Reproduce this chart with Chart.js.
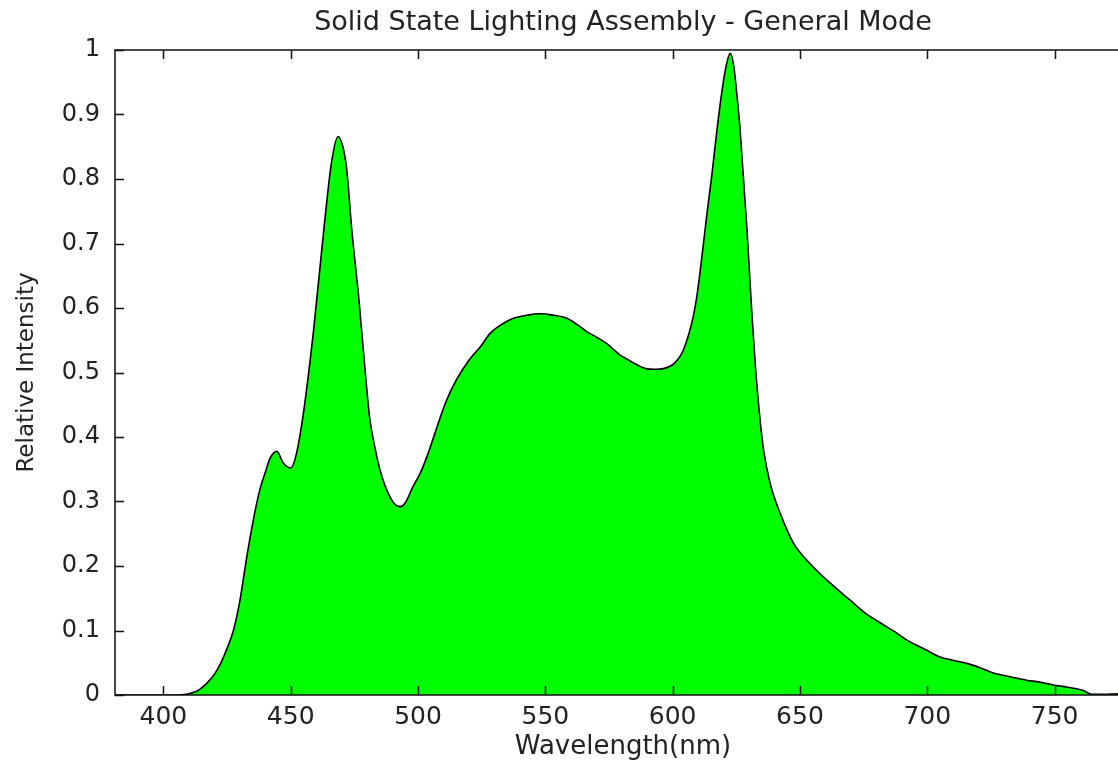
<!DOCTYPE html>
<html>
<head>
<meta charset="utf-8">
<title>Solid State Lighting Assembly - General Mode</title>
<script src="https://cdn.jsdelivr.net/npm/chart.js@4"></script>
<style>
  html, body { margin: 0; padding: 0; background: #fff; overflow: hidden; }
  #wrap { width: 1150px; height: 763px; }
</style>
</head>
<body>
<div id="wrap"><canvas id="spectrum-chart" width="1150" height="763"></canvas></div>
<script>
// Spectrum: wavelength (nm) and relative intensity
const wavelengths = [
  381, 400, 405, 409, 411, 414, 417, 420, 422.5, 425, 427.5, 430, 433, 436, 438, 440, 442, 444.6,
  447, 450, 452, 455, 459, 463, 466, 468.6, 470.5, 472, 474, 476.7, 479.3, 481, 483, 485, 487, 490.4,
  493, 495, 498, 501, 504, 507.5, 511, 515, 520, 524.5, 528.4, 533, 537.5, 543, 548, 553, 558.5,
  563, 566.4, 571, 574, 579.4, 582, 586, 589.5, 593, 596.4, 600, 602, 604, 606, 608, 609.5, 611.5, 613.5,
  615.5, 617.4, 619.5, 621, 622.6, 624, 625.5, 626.5, 629.2, 631.1, 632.5, 634, 635.7, 638.3, 642.2, 647.5, 652.7,
  660.6, 669.7, 675, 681.5, 688, 692, 699, 705, 710, 715.5, 721, 726, 733, 739, 744, 749.5,
  755, 761.3, 764.6, 770, 775, 780
];
const intensity = [
  0, 0, 0, 0.001, 0.003, 0.008, 0.018, 0.032, 0.049, 0.072, 0.10, 0.145, 0.22, 0.285, 0.32, 0.345, 0.368, 0.378,
  0.36, 0.352, 0.37, 0.437, 0.566, 0.721, 0.825, 0.866, 0.85, 0.815, 0.721, 0.617, 0.5, 0.43, 0.385, 0.35, 0.325, 0.298,
  0.292, 0.298, 0.323, 0.345, 0.375, 0.416, 0.455, 0.488, 0.519, 0.54, 0.561, 0.575, 0.584, 0.589, 0.591, 0.589, 0.584,
  0.573, 0.563, 0.553, 0.545, 0.527, 0.521, 0.512, 0.506, 0.505, 0.506, 0.512, 0.52, 0.533, 0.555, 0.585, 0.618, 0.68, 0.747,
  0.81, 0.876, 0.94, 0.975, 0.995, 0.975, 0.92, 0.876, 0.721, 0.592, 0.51, 0.44, 0.38, 0.328, 0.282, 0.235, 0.209,
  0.178, 0.147, 0.129, 0.112, 0.096, 0.085, 0.071, 0.059, 0.054, 0.049, 0.042, 0.034, 0.028, 0.023, 0.02, 0.0155,
  0.012, 0.007, 0.001, 0.001, 0.002, 0.002
];

// Axis ticks
const xTicks = [400, 450, 500, 550, 600, 650, 700, 750];
const yTicks = [0, 0.1, 0.2, 0.3, 0.4, 0.5, 0.6, 0.7, 0.8, 0.9, 1];

const chartTitle = 'Solid State Lighting Assembly - General Mode';
const textColor = '#222222';
const fontFamily = '"DejaVu Sans", sans-serif';

// MATLAB style box with inward ticks, title centred over the axes
const boxPlugin = {
  id: 'matlabBox',
  afterDraw(chart) {
    const {ctx, chartArea: a, scales} = chart;
    const len = 9;
    ctx.save();
    ctx.strokeStyle = '#111111';
    ctx.lineWidth = 1.5;
    ctx.strokeRect(a.left, a.top, a.right - a.left, a.bottom - a.top);
    ctx.beginPath();
    xTicks.forEach(v => {
      const x = Math.round(scales.x.getPixelForValue(v)) + 0.5;
      ctx.moveTo(x, a.top); ctx.lineTo(x, a.top + len);
      ctx.moveTo(x, a.bottom); ctx.lineTo(x, a.bottom - len);
    });
    yTicks.forEach(v => {
      const y = Math.round(scales.y.getPixelForValue(v)) + 0.5;
      ctx.moveTo(a.left, y); ctx.lineTo(a.left + len, y);
      ctx.moveTo(a.right, y); ctx.lineTo(a.right - len, y);
    });
    ctx.stroke();

    ctx.fillStyle = textColor;
    ctx.font = '27px ' + fontFamily;
    ctx.textAlign = 'center';
    ctx.textBaseline = 'middle';
    ctx.fillText(chartTitle, (a.left + a.right) / 2, 23);
    ctx.restore();
  }
};

const ctx = document.getElementById('spectrum-chart').getContext('2d');
const spectrumChart = new Chart(ctx, {
  type: 'line',
  data: {
    datasets: [{
      data: wavelengths.map((w, i) => ({x: w, y: intensity[i]})),
      borderColor: '#000000',
      borderWidth: 1.6,
      backgroundColor: 'rgb(0, 255, 0)',
      fill: 'origin',
      pointRadius: 0,
      cubicInterpolationMode: 'monotone'
    }]
  },
  options: {
    responsive: false,
    animation: false,
    layout: { padding: { left: 0, right: 19, top: 50, bottom: 0 } },
    plugins: {
      legend: { display: false },
      tooltip: { enabled: false },
      title: { display: false }
    },
    scales: {
      x: {
        type: 'linear',
        min: 381,
        max: 780,
        afterBuildTicks: scale => { scale.ticks = xTicks.map(v => ({value: v})); },
        afterFit: scale => { scale.height = 68; },
        grid: { display: false, drawTicks: false },
        border: { display: false },
        ticks: {
          color: textColor,
          font: { family: fontFamily, size: 25 },
          padding: 7,
          maxRotation: 0
        },
        title: {
          display: true,
          text: 'Wavelength(nm)',
          color: textColor,
          font: { family: fontFamily, size: 26 },
          padding: { top: 0, bottom: 0 }
        }
      },
      y: {
        min: 0,
        max: 1,
        afterBuildTicks: scale => { scale.ticks = yTicks.map(v => ({value: v})); },
        afterFit: scale => { scale.width = 115; },
        grid: { display: false, drawTicks: false },
        border: { display: false },
        ticks: {
          color: textColor,
          font: { family: fontFamily, size: 24 },
          padding: 15,
          callback: v => String(v)
        },
        title: {
          display: true,
          text: 'Relative Intensity',
          color: textColor,
          font: { family: fontFamily, size: 23 },
          padding: { top: 13, bottom: 0 }
        }
      }
    }
  },
  plugins: [boxPlugin]
});
window.spectrumChart = spectrumChart;
</script>
</body>
</html>
